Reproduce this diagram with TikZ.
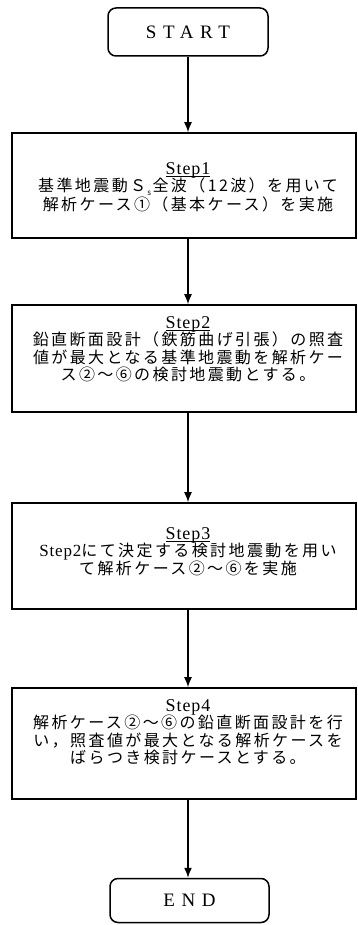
\documentclass[tikz,border=0pt]{standalone}
\usepackage{fontspec}
\setmainfont{Liberation Serif}
\newfontfamily\jp{Noto Sans CJK JP}[LetterSpace=15]
\newfontfamily\spaced{Liberation Serif}[LetterSpace=35]
\newfontfamily\stepfont{Liberation Serif}[LetterSpace=5]
\newcommand\stephead[1]{{\fontsize{18}{17.6}\stepfont\setbox0\hbox{#1}\rlap{\rule[-3pt]{\wd0}{0.8pt}}\raisebox{0pt}[\height][0pt]{\box0}}}
\usetikzlibrary{arrows.meta}
\begin{document}
\begin{tikzpicture}[x=1pt,y=-1pt,
  term/.style={draw=black,line width=1.5pt,rounded corners=8pt,minimum width=160pt,inner sep=0pt,
    font=\fontsize{19}{19}\spaced},
  stepbox/.style={draw=black,line width=1.6pt,minimum width=344pt,inner sep=0pt},
  txt/.style={align=center,inner sep=0pt,anchor=north,font=\fontsize{16}{17.6}\jp},
  arr/.style={line width=1.4pt,-{Latex[length=10pt,width=8pt]}}]
\useasboundingbox (0,0) rectangle (358,925);
\node[term,minimum height=48pt] (start) at (188,32) {START};
\node[stepbox,minimum height=105pt] (s1) at (184,185.5) {};
\node[stepbox,minimum height=107pt] (s2) at (184,358.5) {};
\node[stepbox,minimum height=106pt] (s3) at (184,556) {};
\node[stepbox,minimum height=111pt] (s4) at (184,743.5) {};
\node[term,minimum height=44pt,minimum width=159pt] (end) at (189.5,900.5) {END};
\node[txt] (t1) at (188,162) {\stephead{Step1}\\
  基準地震動Ｓ\raisebox{-4pt}{\fontsize{8}{8}\selectfont\,s\,}全波（{\fontsize{16}{16}\selectfont 12}波）を用いて\\
  解析ケース①（基本ケース）を実施};
\node[txt] (t2) at (188,316) {\stephead{Step2}\\
  鉛直断面設計（鉄筋曲げ引張）の照査\\
  値が最大となる基準地震動を解析ケー\\
  ス②～⑥の検討地震動とする。};
\node[txt] (t3) at (188,527) {\stephead{Step3}\\
  {\fontsize{17}{16}\stepfont Step2}にて決定する検討地震動を用い\\
  て解析ケース②～⑥を実施};
\node[txt] (t4) at (188,699) {{\fontsize{18}{17.6}\stepfont Step4}\\
  解析ケース②～⑥の鉛直断面設計を行\\
  い，照査値が最大となる解析ケースを\\
  ばらつき検討ケースとする。};
\draw[arr] (start.south) -- (start.south |- s1.north);
\draw[arr] (start.south |- s1.south) -- (start.south |- s2.north);
\draw[arr] (start.south |- s2.south) -- (start.south |- s3.north);
\draw[arr] (start.south |- s3.south) -- (start.south |- s4.north);
\draw[arr] (start.south |- s4.south) -- (start.south |- end.north);
\end{tikzpicture}
\end{document}
